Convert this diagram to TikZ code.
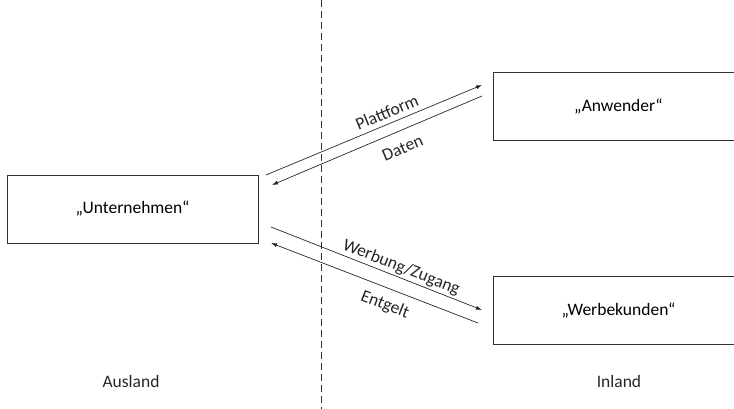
\documentclass[tikz,border=0pt]{standalone}
\usepackage{fontspec}
\setmainfont{Carlito}
\usetikzlibrary{arrows.meta}

\tikzset{
  akteur/.style={draw=black!80, line width=0.8pt, minimum width=251pt, minimum height=68pt, inner sep=0pt},
  fluss/.style={line width=0.7pt, draw=black!85, -{Latex[length=6pt,width=4pt]}},
  beschr/.style={sloped, inner sep=2pt, text=black!85}
}

\begin{document}
\begin{tikzpicture}[x=1pt,y=1pt,font=\fontsize{17.5}{20}\selectfont]
\clip (0,0) rectangle (734,409);

% Akteure
\node [akteur] (unt) at (132.5,200) {„Unternehmen“};
\node [akteur] (anw) at (618.5,302.5) {„Anwender“};
\node [akteur] (wkd) at (618.5,98.5) {„Werbekunden“};

% Grenze
\coordinate (gro) at (321,409);
\coordinate (gru) at (321,0);
\draw [line width=0.8pt, black!80, dash pattern={on 7pt off 4pt}] (gro) -- (gru);

% Gebiete
\node [text=black!85] (ausl) at (131,28) {Ausland};
\node [text=black!85] (inl) at (619,28) {Inland};

% Endpunkte der Pfeile
\coordinate (pl1) at (266,234);
\coordinate (pl2) at (482,324);
\coordinate (da1) at (482,313);
\coordinate (da2) at (272,224);
\coordinate (wz1) at (271,182);
\coordinate (wz2) at (482,99);
\coordinate (en1) at (478,86);
\coordinate (en2) at (271,166);

% Pfeile
\draw [fluss] (pl1) -- node [beschr, above=3pt, pos=0.58] {Plattform} (pl2);
\draw [fluss] (da1) -- node [beschr, below=9pt, pos=0.41] {Daten} (da2);
\draw [fluss] (wz1) -- node [beschr, above, pos=0.6] {Werbung/Zugang} (wz2);
\draw [fluss] (en1) -- node [beschr, below=7pt, pos=0.42] {Entgelt} (en2);

\end{tikzpicture}
\end{document}
